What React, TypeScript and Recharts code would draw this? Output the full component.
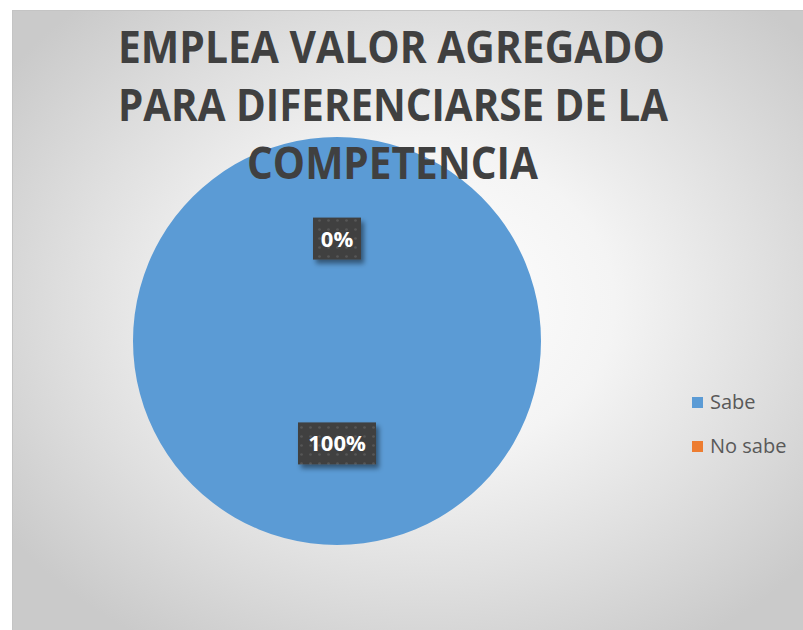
import React from "react";
import { PieChart, Pie, Cell, Legend } from "recharts";

const categories = ["Sabe", "No sabe"];
const values = [100, 0];
const colors = ["#5B9BD5", "#ED7D31"];
const titleLines = ["EMPLEA VALOR AGREGADO", "PARA DIFERENCIARSE DE LA", "COMPETENCIA"];

const data = categories.map((name, i) => ({ name, value: values[i] }));

const RAD = Math.PI / 180;

const renderLabel = (props: any) => {
  const { cx, cy, midAngle, outerRadius, percent } = props;
  const r = outerRadius * 0.502;
  const x = cx + r * Math.cos(-midAngle * RAD);
  const y = cy + r * Math.sin(-midAngle * RAD);
  const text = `${Math.round((percent || 0) * 100)}%`;
  const w = 18 + 15 * text.length;
  const h = 42;
  return (
    <g>
      <rect x={x - w / 2} y={y - h / 2} width={w} height={h} fill="url(#dotpat)" filter="url(#lblshadow)" />
      <text
        x={x}
        y={y + 8}
        textAnchor="middle"
        fill="#ffffff"
        fontFamily="'Open Sans', sans-serif"
        fontWeight={700}
        fontSize={22}
      >
        {text}
      </text>
    </g>
  );
};

const renderLegend = (props: any) => {
  const payload = [...(props.payload || [])].sort(
    (a: any, b: any) => categories.indexOf(a.value) - categories.indexOf(b.value)
  );
  return (
    <div>
      {payload.map((p: any, i: number) => (
        <div key={i} style={{ display: "flex", alignItems: "center", height: 44 }}>
          <div style={{ width: 11, height: 11, background: p.color, marginRight: 7 }} />
          <span style={{ fontFamily: "'Open Sans', sans-serif", fontSize: 20, color: "#595959", lineHeight: "20px" }}>
            {p.value}
          </span>
        </div>
      ))}
    </div>
  );
};

export default function App() {
  return (
    <div style={{ position: "absolute", left: 0, top: 0, width: 803, height: 630, overflow: "hidden", background: "#ffffff" }}>
      <div
        style={{
          position: "absolute",
          left: 12,
          top: 10,
          width: 820,
          height: 650,
          boxSizing: "border-box",
          border: "1px solid #c4c4c4",
          background: "radial-gradient(ellipse 62% 62% at 50% 45%, #ffffff 0%, #f4f4f4 38%, #e0e0e0 68%, #cacaca 100%)",
        }}
      />
      <svg width={803} height={630} style={{ position: "absolute", left: 0, top: 0 }}>
        <defs>
          <pattern id="dotpat" width="9" height="9" patternUnits="userSpaceOnUse">
            <rect width="9" height="9" fill="#404040" />
            <circle cx="4.5" cy="4.5" r="1.3" fill="#575757" />
          </pattern>
          <filter id="lblshadow" x="-20%" y="-20%" width="150%" height="160%">
            <feDropShadow dx="3" dy="4" stdDeviation="2.5" floodColor="#000" floodOpacity="0.45" />
          </filter>
        </defs>
      </svg>
      <div style={{ position: "absolute", left: 0, top: 0 }}>
        <PieChart width={803} height={630} margin={{ top: 0, right: 0, bottom: 0, left: 0 }}>
          <Pie
            data={data}
            dataKey="value"
            nameKey="name"
            cx={337}
            cy={341}
            outerRadius={204}
            startAngle={90}
            endAngle={-270}
            stroke="none"
            label={renderLabel}
            labelLine={false}
            isAnimationActive={false}
          >
            {data.map((d, i) => (
              <Cell key={d.name} fill={colors[i]} />
            ))}
          </Pie>
          <Legend
            layout="vertical"
            align="right"
            verticalAlign="middle"
            content={renderLegend}
            wrapperStyle={{ position: "absolute", left: 692, top: 380, width: 110 }}
          />
        </PieChart>
      </div>
      <svg width={803} height={630} style={{ position: "absolute", left: 0, top: 0, pointerEvents: "none" }}>
        <text x={118} y={63} textLength={547} lengthAdjust="spacingAndGlyphs" fill="#404040" fontFamily="'Open Sans', sans-serif" fontWeight={700} fontSize={45}>
          {titleLines[0]}
        </text>
        <text x={118} y={121} textLength={550} lengthAdjust="spacingAndGlyphs" fill="#404040" fontFamily="'Open Sans', sans-serif" fontWeight={700} fontSize={45}>
          {titleLines[1]}
        </text>
        <text x={247} y={179} textLength={291} lengthAdjust="spacingAndGlyphs" fill="#404040" fontFamily="'Open Sans', sans-serif" fontWeight={700} fontSize={45}>
          {titleLines[2]}
        </text>
      </svg>
    </div>
  );
}
